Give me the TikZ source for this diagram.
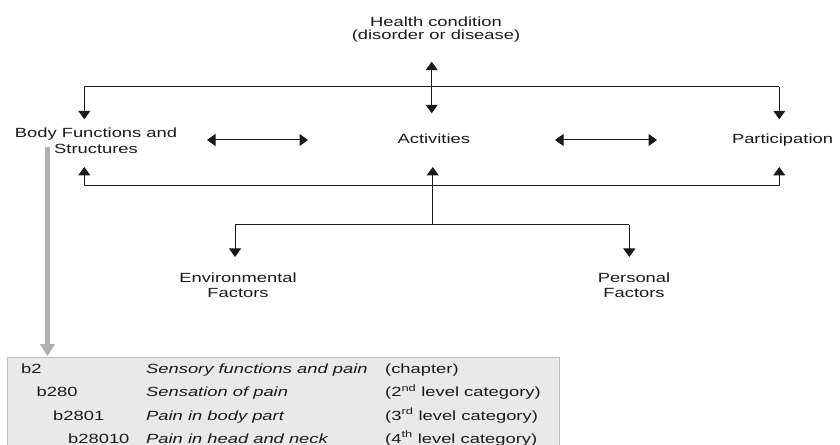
\documentclass[tikz,border=0pt]{standalone}
\usepackage{fontspec}
\setmainfont{Liberation Sans}[FakeStretch=1.38]
\usetikzlibrary{arrows.meta}
\definecolor{boxfill}{HTML}{E9E9E9}
\definecolor{boxline}{HTML}{BDBDBD}
\definecolor{grayarrow}{HTML}{B0B0B0}
\definecolor{ink}{HTML}{1A1A1A}
\newcommand\twol[3]{\vtop{\baselineskip=#3\relax\lineskiplimit=-20pt\relax\halign{\hfil##\hfil\cr#1\cr#2\cr}}}
\tikzset{
  lbl/.style={inner sep=0pt, anchor=base, font=\fontsize{13.3bp}{15bp}\selectfont, text=ink},
  cell/.style={inner sep=0pt, anchor=base west, font=\fontsize{13.3bp}{15bp}\selectfont, text=ink},
  conn/.style={draw=ink, line width=1bp},
  arr/.style={conn, -{Triangle[width=12bp,length=8.5bp]}},
  dbl/.style={conn, {Triangle[width=12bp,length=8.5bp]}-{Triangle[width=12bp,length=8.5bp]}},
  grayarr/.style={draw=grayarrow, line width=4.5bp, -{Triangle[width=14bp,length=12bp]}},
  tablebox/.style={draw=boxline, fill=boxfill, line width=1bp}
}
\begin{document}
\begin{tikzpicture}[x=1bp,y=-1bp]
\clip (0,0) rectangle (840,445);
\fill[white] (0,0) rectangle (840,445);

% text nodes
\node[lbl] (health) at (436,27) {\twol{Health condition}{(disorder or disease)}{12.8bp}};
\node[lbl] (bodyfs) at (96,137.7) {\twol{Body Functions and}{Structures}{15.5bp}};
\node[lbl] (activities) at (433.8,143.3) {Activities};
\node[lbl] (participation) at (782.5,143.3) {Participation};
\node[lbl] (envf) at (238,282.7) {\twol{Environmental}{Factors}{15bp}};
\node[lbl] (persf) at (634,282.7) {\twol{Personal}{Factors}{15bp}};

% connector coordinates
\coordinate (hTip) at (431.7,61.7);
\coordinate (aTip) at (431.7,113.3);
\coordinate (tL) at (84.3,87);
\coordinate (tR) at (779.3,87);
\coordinate (bodyIn) at (84.3,119.3);
\coordinate (partIn) at (779.3,119.3);
\coordinate (bL) at (84.3,186);
\coordinate (bR) at (779.3,186);
\coordinate (bodyUp) at (84.3,167);
\coordinate (partUp) at (779.3,167);
\coordinate (actUp) at (432.7,167);
\coordinate (fJ) at (432.7,225);
\coordinate (fL) at (235,225);
\coordinate (fR) at (629.3,225);
\coordinate (envIn) at (235,257);
\coordinate (persIn) at (629.3,257);
\coordinate (ba1) at (207,140);
\coordinate (ba2) at (308,140);
\coordinate (ap1) at (555,140);
\coordinate (ap2) at (657,140);

% connectors
\draw[dbl] (hTip) -- (aTip);
\draw[conn] (tL) -- (tR);
\draw[arr] (tL) -- (bodyIn);
\draw[arr] (tR) -- (partIn);
\draw[dbl] (ba1) -- (ba2);
\draw[dbl] (ap1) -- (ap2);
\draw[conn] (bL) -- (bR);
\draw[arr] (bL) -- (bodyUp);
\draw[arr] (bR) -- (partUp);
\draw[arr] (fJ) -- (actUp);
\draw[conn] (fL) -- (fR);
\draw[arr] (fL) -- (envIn);
\draw[arr] (fR) -- (persIn);

% table box
\node[tablebox, anchor=north west, minimum width=552bp, minimum height=110bp, inner sep=0pt] (tbl) at (7.3,356.6) {};
\coordinate (gStart) at (47.5,146.7);
\coordinate (gEnd) at (47.5,356.2);
\draw[grayarr] (gStart) -- (gEnd);

% table cells
\node[cell] (c1a) at (21,373.5) {b2};
\node[cell] (c1b) at (146,373.5) {\itshape Sensory functions and pain};
\node[cell] (c1c) at (385,373.5) {(chapter)};
\node[cell] (c2a) at (36.5,396.7) {b280};
\node[cell] (c2b) at (146,396.7) {\itshape Sensation of pain};
\node[cell] (c2c) at (385,396.7) {(2\textsuperscript{nd} level category)};
\node[cell] (c3a) at (53,420) {b2801};
\node[cell] (c3b) at (146,420) {\itshape Pain in body part};
\node[cell] (c3c) at (385,420) {(3\textsuperscript{rd} level category)};
\node[cell] (c4a) at (68,443) {b28010};
\node[cell] (c4b) at (146,443) {\itshape Pain in head and neck};
\node[cell] (c4c) at (385,443) {(4\textsuperscript{th} level category)};
\end{tikzpicture}
\end{document}
